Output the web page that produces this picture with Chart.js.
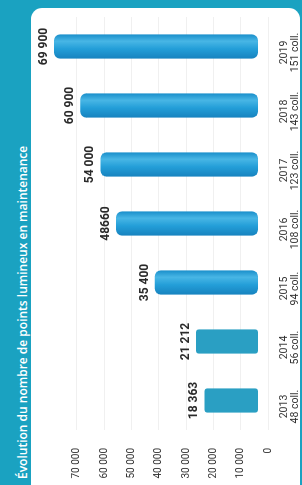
<!DOCTYPE html>
<html lang="fr">
<head>
<meta charset="utf-8">
<script src="https://cdn.jsdelivr.net/npm/chart.js@4.4.1/dist/chart.umd.min.js"></script>
<style>
  html, body { margin: 0; padding: 0; width: 302px; height: 485px; overflow: hidden; background: #1aa2c1; }
  /* the whole infographic is laid out upright, then turned a quarter to the left */
  #frame { position: absolute; left: 0; top: 0; width: 485px; height: 302px; transform-origin: 0 0; transform: translate(0, 485px) rotate(-90deg); }
  #title { position: absolute; left: 6px; top: 14px; font: 600 12px "Open Sans", sans-serif; color: #fff; white-space: nowrap; }
  #panel { position: absolute; left: -20px; top: 31px; width: 497px; height: 269px; background: #fff; border-radius: 0 11px 11px 0; }
  #chartBox { position: absolute; left: 0; top: 31px; width: 477px; height: 269px; }
</style>
</head>
<body>
<div id="frame">
  <div id="title">Évolution du nombre de points lumineux en maintenance</div>
  <div id="panel"></div>
  <div id="chartBox"><canvas id="chart" width="477" height="269"></canvas></div>
</div>
<script>
const years = ["2013", "2014", "2015", "2016", "2017", "2018", "2019"];
const collectivites = ["48 coll.", "56 coll.", "94 coll.", "108 coll.", "123 coll.", "143 coll.", "151 coll."];
const pointsLumineux = [18363, 21212, 35400, 48660, 54000, 60900, 69900];
const valueLabels = ["18 363", "21 212", "35 400", "48660", "54 000", "60 900", "69 900"];
const valueTicks = [0, 10000, 20000, 30000, 40000, 50000, 60000, 70000];

const NARROW = "'Liberation Sans Narrow', 'Roboto', sans-serif";

function formatThousands(value) {
  return String(value).replace(/\B(?=(\d{3})+(?!\d))/g, " ");
}

function barColor(context) {
  const index = context.dataIndex;
  // the first two years are drawn flat, the rest as shaded tubes
  if (index < 2) return "#2a9fc3";
  const chart = context.chart;
  const xScale = chart.scales.x;
  if (!xScale || !chart.chartArea) return "#239cd4";
  const center = xScale.getPixelForValue(index);
  const half = 12;
  const gradient = chart.ctx.createLinearGradient(center - half, 0, center + half, 0);
  gradient.addColorStop(0, "#1783bf");
  gradient.addColorStop(0.4, "#239ed8");
  gradient.addColorStop(0.72, "#48b6e5");
  gradient.addColorStop(1, "#1a8fcb");
  return gradient;
}

const barValueLabels = {
  id: "barValueLabels",
  afterDatasetsDraw(chart) {
    const { ctx } = chart;
    const meta = chart.getDatasetMeta(0);
    ctx.save();
    ctx.font = `bold 12px ${NARROW}`;
    ctx.fillStyle = "#2a2a2a";
    ctx.textAlign = "center";
    ctx.textBaseline = "bottom";
    meta.data.forEach((bar, index) => {
      ctx.fillText(valueLabels[index], bar.x, bar.y - 4);
    });
    ctx.restore();
  },
};

new Chart(document.getElementById("chart"), {
  type: "bar",
  data: {
    labels: years.map((year, index) => [year, collectivites[index]]),
    datasets: [{
      label: "Points lumineux",
      data: pointsLumineux,
      backgroundColor: barColor,
      borderRadius: (context) => (context.dataIndex < 2 ? 3 : 6),
      borderSkipped: false,
      barPercentage: 0.41,
      categoryPercentage: 1,
    }],
  },
  options: {
    responsive: false,
    animation: false,
    layout: { padding: { top: 8, right: 9, left: 0, bottom: 0 } },
    plugins: { legend: { display: false }, tooltip: { enabled: false } },
    scales: {
      x: {
        grid: { display: false },
        border: { display: false },
        ticks: {
          color: "#333",
          font: { family: NARROW, size: 10.5, lineHeight: 1.05 },
          padding: 0,
          labelOffset: -6,
          minRotation: 0,
          maxRotation: 0,
        },
        afterFit(scale) {
          scale.height = 29;
          scale.paddingLeft = 0;
          scale.paddingRight = 0;
        },
      },
      y: { display: false, min: -4455, max: 75050 },
      yTicks: {
        position: "left",
        min: -1099,
        max: 83913,
        afterBuildTicks(scale) { scale.ticks = valueTicks.map((value) => ({ value })); },
        grid: { color: "#f0f0f0", drawTicks: false },
        border: { display: false },
        ticks: {
          color: "#333",
          font: { family: NARROW, size: 10 },
          padding: 18,
          callback: (value) => formatThousands(value),
        },
        afterFit(scale) {
          scale.width = 55;
          scale.paddingTop = 0;
          scale.paddingBottom = 0;
        },
      },
    },
  },
  plugins: [barValueLabels],
});
</script>
</body>
</html>
